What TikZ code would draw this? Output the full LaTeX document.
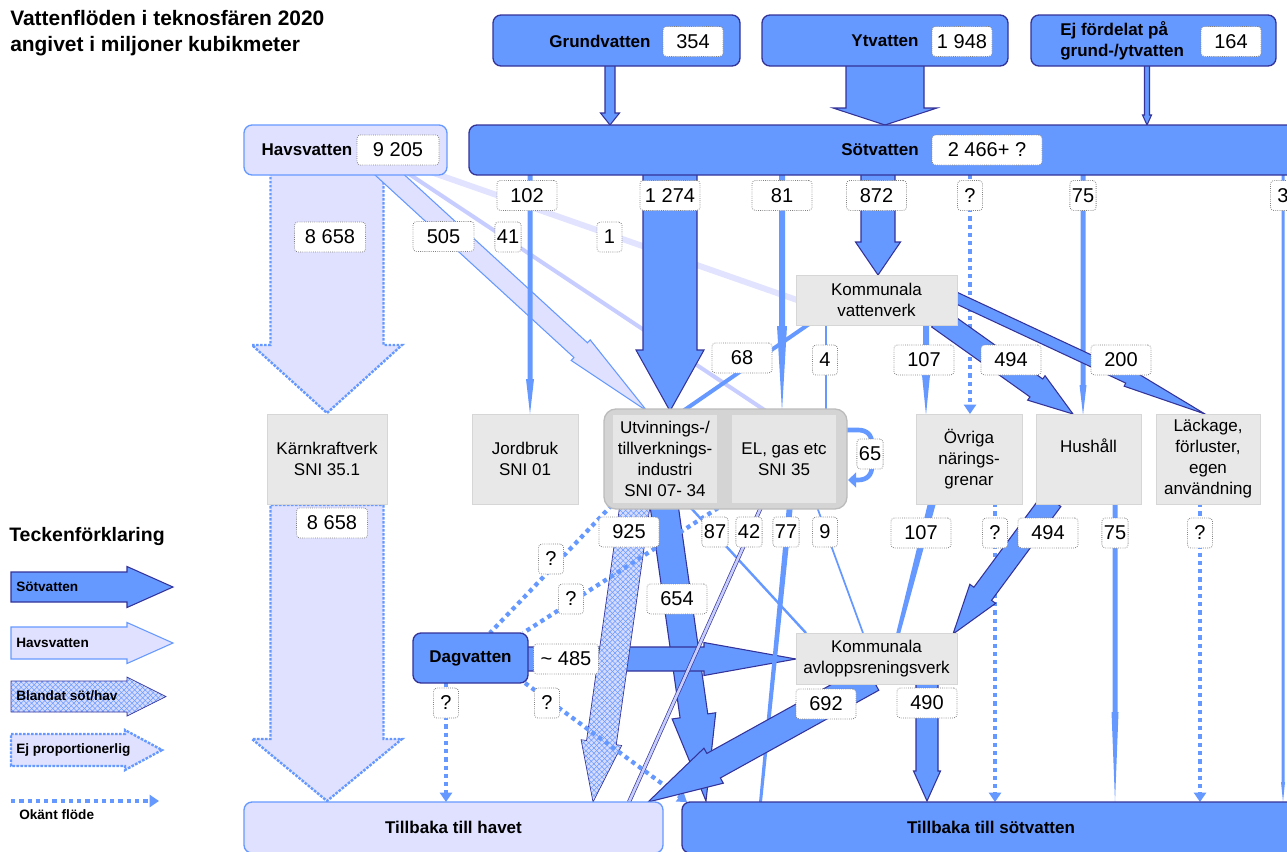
\documentclass[tikz,border=0pt]{standalone}
\usepackage{fontspec}
\setmainfont{Liberation Sans}
\usetikzlibrary{calc,arrows.meta,patterns,patterns.meta}
\pgfdeclarelayer{background}
\pgfsetlayers{background,main}
\definecolor{dblue}{RGB}{102,153,255}
\definecolor{navy}{RGB}{51,51,153}
\definecolor{lblue}{RGB}{223,225,255}
\definecolor{mixfill}{RGB}{215,220,255}
\definecolor{pale}{RGB}{200,205,255}
\definecolor{paler}{RGB}{226,228,255}
\definecolor{boxgray}{RGB}{232,232,232}
\definecolor{boxedge}{RGB}{214,214,214}
\definecolor{innergray}{RGB}{230,230,230}
\definecolor{grpgray}{RGB}{212,212,212}
\definecolor{grpedge}{RGB}{188,188,188}
\newcommand\numfont{\fontsize{15}{15}\selectfont}
\newcommand\lblfont{\fontsize{12.75}{15.75}\selectfont}
\newcommand\bldfont{\fontsize{12.75}{15.75}\selectfont\bfseries}
\newcommand\ttlfont{\fontsize{15.7}{19.5}\selectfont\bfseries}
\newcommand\legfont{\fontsize{10.2}{12}\selectfont\bfseries}
% #1 style, #2 start, #3 tip, #4 half shaft, #5 half head, #6 head length (px)
\newcommand\flowarrow[6]{%
  \coordinate (fH) at ($(#3)!{#6*0.75pt}!(#2)$);
  \path[#1] ($(#2)!{#4*0.75pt}!90:(#3)$)
    -- ($(fH)!{#4*0.75pt}!-90:(#2)$)
    -- ($(fH)!{#5*0.75pt}!-90:(#2)$)
    -- (#3)
    -- ($(fH)!{#5*0.75pt}!90:(#2)$)
    -- ($(fH)!{#4*0.75pt}!90:(#2)$)
    -- ($(#2)!{#4*0.75pt}!-90:(#3)$) -- cycle;}
\begin{document}
\begin{tikzpicture}[x=0.75pt,y=-0.75pt,
  numbox/.style={draw=black!50, densely dotted, line width=0.6pt, fill=white, rounded corners=2.5pt, minimum height=22.5pt, minimum width=18.75pt, inner xsep=1.5pt, inner ysep=0pt, font=\numfont},
  wide/.style={minimum width=45pt},
  graybox/.style={draw=boxedge, line width=0.75pt, fill=boxgray, align=center, font=\lblfont, inner sep=0pt, minimum height=67.5pt},
  innerbox/.style={fill=innergray, align=center, font=\lblfont, inner sep=0pt, minimum height=66pt, minimum width=78pt},
  sweetbox/.style={draw=navy, line width=1pt, fill=dblue, rounded corners=6pt, inner sep=0pt},
  seabox/.style={draw=dblue, line width=1pt, fill=lblue, rounded corners=6pt, inner sep=0pt},
  sweet/.style={fill=dblue, draw=navy, line width=0.8pt},
  sea/.style={fill=lblue, draw=dblue, line width=0.8pt},
  seadot/.style={fill=lblue, draw=dblue, line width=1.8pt, dash pattern=on 2pt off 1pt},
  mixed/.style={preaction={fill=mixfill},
                preaction={pattern={Lines[angle=45,distance=2.8pt,line width=0.4pt]}, pattern color=dblue},
                pattern={Lines[angle=-45,distance=2.8pt,line width=0.4pt]}, pattern color=dblue,
                draw=navy, line width=0.5pt},
  sline/.style={fill=dblue},
  unk/.style={draw=dblue, line width=3.2pt, dash pattern=on 3.2pt off 3pt},
  unkarrow/.style={unk, -{Triangle[width=9pt,length=7pt]}},
  txt/.style={inner sep=0pt},
]
\useasboundingbox (0,0) rectangle (1287,851);

% ---------- title ----------
\node[txt, font=\ttlfont, align=left, anchor=north west] (title) at (10,10) {Vattenflöden i teknosfären 2020\\angivet i miljoner kubikmeter};

% ---------- top boxes ----------
\node[sweetbox, minimum width=185.25pt, minimum height=38.25pt] (gv) at (616.5,40.5) {};
\node[sweetbox, minimum width=184.5pt, minimum height=38.25pt] (yv) at (885,40.5) {};
\node[sweetbox, minimum width=183.75pt, minimum height=38.25pt] (ej) at (1153.5,40.5) {};
\node[sweetbox, minimum width=623.25pt, minimum height=37.5pt] (sv) at (884.5,150) {};
\node[seabox, minimum width=152.25pt, minimum height=37.5pt] (hv) at (345.5,150) {};

\node[txt, font=\bldfont] (gvt) at (600,41) {Grundvatten};
\node[numbox, wide] (n354) at (693,41.5) {354};
\node[txt, font=\bldfont] (yvt) at (885,41) {Ytvatten};
\node[numbox, wide] (n1948) at (962,41.5) {1 948};
\node[txt, font=\bldfont, align=left, anchor=west] (ejt) at (1060,41) {Ej fördelat på\\grund-/ytvatten};
\node[numbox, wide] (n164) at (1231,41.5) {164};
\node[txt, font=\bldfont] (svt) at (880,150) {Sötvatten};
\node[numbox, minimum width=82.5pt] (n2466) at (987,150) {2 466+ ?};
\node[txt, font=\bldfont] (hvt) at (307,150) {Havsvatten};
\node[numbox, minimum width=61.5pt] (n9205) at (398,150) {9 205};

% ---------- gray boxes ----------
\node[graybox, minimum width=90pt] (kk) at (327,459) {Kärnkraftverk\\SNI 35.1};
\node[graybox, minimum width=79.5pt] (jb) at (525,459) {Jordbruk\\SNI 01};
\node[draw=grpedge, line width=1pt, fill=grpgray, rounded corners=9pt, minimum width=182.25pt, minimum height=75pt, inner sep=0pt] (grp) at (725.5,459) {};
\node[innerbox] (ut) at (665,459) {Utvinnings-/\\tillverknings-\\industri\\SNI 07- 34};
\node[innerbox] (el) at (784,459) {EL, gas etc\\SNI 35};
\node[graybox, minimum width=79.5pt] (ov) at (969,459) {Övriga\\närings-\\grenar};
\node[graybox, minimum width=78.75pt] (hh) at (1088.5,459) {Hushåll\\\strut};
\node[graybox, minimum width=78pt] (lk) at (1208,459) {Läckage,\\förluster,\\egen\\användning};
\node[graybox, minimum width=120.75pt, minimum height=37.5pt] (vv) at (876.5,300) {Kommunala\\vattenverk};
\node[graybox, minimum width=120.75pt, minimum height=38.25pt] (av) at (876.5,658.5) {Kommunala\\avloppsreningsverk};

\node[sweetbox, font=\bldfont, minimum width=86.25pt, minimum height=37.5pt] (dv) at (470.5,658) {Dagvatten};
\node[seabox, font=\bldfont, minimum width=314.25pt, minimum height=38.25pt] (th) at (453.5,827.5) {Tillbaka till havet};
\node[sweetbox, font=\bldfont, minimum width=463.5pt, minimum height=38.25pt] (ts) at (991,827.5) {Tillbaka till sötvatten};

% ---------- number labels ----------
\node[numbox, wide] (n102) at (527,195.5) {102};
\node[numbox, wide] (n1274) at (670,195.5) {1 274};
\node[numbox, wide] (n81) at (782,195.5) {81};
\node[numbox, wide] (n872) at (876.5,195.5) {872};
\node[numbox] (nq1) at (970,195.5) {?};
\node[numbox] (n75a) at (1083,195.5) {75};
\node[numbox] (n3) at (1283,195.5) {3};
\node[numbox, minimum width=53.25pt] (n8658a) at (330,237) {8 658};
\node[numbox, minimum width=45.75pt] (n505) at (443.5,236.5) {505};
\node[numbox] (n41) at (508,237) {41};
\node[numbox] (n1) at (609.5,237) {1};
\node[numbox, wide] (n68) at (742,358) {68};
\node[numbox] (n4) at (825,360) {4};
\node[numbox, wide] (n107a) at (924,360) {107};
\node[numbox, wide] (n494a) at (1011,360) {494};
\node[numbox, wide] (n200) at (1121,360) {200};
\node[numbox] (n65) at (870,454) {65};
\node[numbox, minimum width=53.25pt] (n8658b) at (332,523) {8 658};
\node[numbox, wide] (n925) at (629,532) {925};
\node[numbox] (n87) at (715,532) {87};
\node[numbox] (n42) at (749,532) {42};
\node[numbox] (n77) at (786,532) {77};
\node[numbox] (n9) at (825,532) {9};
\node[numbox, wide] (n107b) at (921,533) {107};
\node[numbox] (nq2) at (995,533) {?};
\node[numbox, wide] (n494b) at (1048,533) {494};
\node[numbox] (n75b) at (1115,533) {75};
\node[numbox] (nq3) at (1200,533) {?};
\node[numbox] (nq4) at (551,559) {?};
\node[numbox] (nq5) at (571,599) {?};
\node[numbox, wide] (n654) at (677,599) {654};
\node[numbox, minimum width=48.75pt] (n485) at (566,659) {\textasciitilde{} 485};
\node[numbox] (nq6) at (446,703) {?};
\node[numbox] (nq7) at (547,703) {?};
\node[numbox, wide] (n692) at (826,704) {692};
\node[numbox, wide] (n490) at (927,703) {490};

% ---------- legend ----------
\node[txt, font=\fontsize{14.6}{17}\selectfont\bfseries, anchor=west] (legt) at (9,536) {Teckenförklaring};
\node[txt, font=\legfont, anchor=west] (lg1) at (16,587) {Sötvatten};
\node[txt, font=\legfont, anchor=west] (lg2) at (16,643) {Havsvatten};
\node[txt, font=\legfont, anchor=west] (lg3) at (16,696) {Blandat söt/hav};
\node[txt, font=\legfont, anchor=west] (lg4) at (16,750) {Ej proportionerlig};
\node[txt, font=\legfont, anchor=west] (lg5) at (19,815) {Okänt flöde};

% ---------- flows ----------
\begin{pgfonlayer}{background}
% sea water
\draw[paler, line width=4.5pt] (425,170) -- (797,300);
\draw[pale, line width=3pt] (400,168) -- (766,411);
\flowarrow{seadot}{327,170}{327,413}{56.5}{75}{68}
\flowarrow{seadot}{327,505}{327,801}{56.5}{75}{62}
\flowarrow{sea}{380,166}{647,411}{10}{14}{90}
% sources to Sötvatten
\flowarrow{sweet}{610,62}{610,125}{5}{9.5}{12}
\flowarrow{sweet}{885,62}{885,125}{39}{52}{17}
\flowarrow{sweet}{1147,62}{1147,125}{2.5}{4.5}{10}
% from Sötvatten
\flowarrow{sline}{530,170}{530,414}{2.5}{4}{35}
\flowarrow{sweet}{670,170}{670,411}{27}{34}{61}
\flowarrow{sline}{782,170}{782,411}{3}{5}{85}
\flowarrow{sweet}{878,170}{878,275}{17}{22.5}{33}
\draw[unkarrow] (970,175) -- (970,414);
\flowarrow{sline}{1083,170}{1083,415}{2.5}{3.5}{30}
\flowarrow{sline}{1283,170}{1283,802}{1.5}{2}{20}
% from vattenverk
\draw[dblue, line width=3pt] (812,322) -- (683,411);
\draw[dblue, line width=2pt] (826,322) -- (826,411);
\flowarrow{sline}{926,322}{926,415}{3}{4}{40}
\flowarrow{sweet}{938,318}{1073,414}{11}{15}{45}
\flowarrow{sweet}{950,295}{1205,414}{5.5}{9}{85}
% lower part
\flowarrow{sweet}{664,505}{706,801}{14}{22}{86}
\flowarrow{sweet}{526,659}{796,659}{12}{16.5}{92}
\flowarrow{mixed}{635,505}{593,802}{15}{20.5}{60}
\draw[dblue, line width=1.8pt] (690,507) -- (806,633);
\draw[navy, line width=0.5pt, double=pale, double distance=2pt] (762,505) -- (629,802);
\fill[dblue] (787,505) -- (793,505) -- (762,802) -- (759,802) -- cycle;
\draw[dblue, line width=1.3pt] (817,507) -- (863,633);
\fill[dblue] (928,503) -- (936,503) -- (900,634) -- (896,634) -- cycle;
\draw[unkarrow] (995,503) -- (995,802);
\flowarrow{sweet}{1052,500}{953,634}{11}{16}{50}
\flowarrow{sline}{1115,503}{1115,802}{2.5}{3.5}{90}
\draw[unkarrow] (1200,503) -- (1200,802);
\draw[unk] (612,505) -- (490,633);
\draw[unk] (732,499) -- (523,633);
\draw[unkarrow] (446,683) -- (446,802);
\draw[unkarrow] (525,683) -- (687,802);
\flowarrow{sweet}{872,678}{648,802}{14}{20}{75}
\flowarrow{sweet}{927,680}{927,801}{11}{13.5}{30}
% self loop EL
\draw[dblue, line width=3.5pt, -{Triangle[width=11pt,length=6pt]}] (845,430) -- (858,430) .. controls (867,430) and (872,435) .. (872,444) -- (872,466) .. controls (872,475) and (867,480) .. (858,480) -- (848,480);
% legend arrows
\flowarrow{sweet}{11,587}{173,587}{15}{20.5}{46}
\flowarrow{sea}{11,643}{173,643}{16}{20.5}{46}
\flowarrow{mixed}{11,696.5}{166,696.5}{15.5}{19.5}{39}
\flowarrow{seadot}{11,750}{162,750}{16}{20}{37}
\draw[unkarrow] (11,801) -- (159,801);
\end{pgfonlayer}
\end{tikzpicture}
\end{document}
